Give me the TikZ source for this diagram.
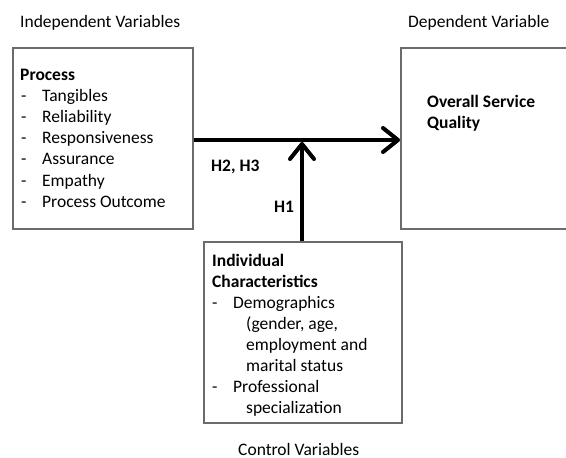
\documentclass[tikz,border=0pt]{standalone}
\usepackage{fontspec}
\setmainfont{Carlito}
\usetikzlibrary{arrows.meta}
\tikzset{
	varbox/.style={draw=black!58, line width=1.5pt, anchor=north west, inner sep=0pt},
	txt/.style={anchor=base west, inner sep=0pt, font=\fontsize{17.5}{21}\selectfont},
	bold/.style={txt, font=\fontsize{17.5}{21}\selectfont\bfseries},
	link/.style={line width=4pt, -{Straight Barb[length=15pt,width=24pt,round]}}
}
\begin{document}
\begin{tikzpicture}[x=1pt,y=-1pt]
		\useasboundingbox (0,0) rectangle (566,458);
		\clip (0,0) rectangle (566,458);
		
		\node[txt] (indep) at (20,27) {Independent Variables};
		\node[txt] (dep) at (408,27) {Dependent Variable};
		
		\node[varbox, minimum width=180pt, minimum height=181pt] (process) at (12,47) {};
		\node[bold] (ptitle) at (20,80) {Process};
		\foreach \t [count=\i] in {Tangibles,Reliability,Responsiveness,Assurance,Empathy,Process Outcome} {
			\node[txt] (dash\i) at (21,80+21.2*\i) {-};
			\node[txt] (item\i) at (42,80+21.2*\i) {\t};
		}
		
		\node[varbox, minimum width=190pt, minimum height=181pt] (overall) at (400,47) {};
		\node[bold] (otitle) at (427,107) {Overall Service};
		\node[bold] (otitle2) at (427,128) {Quality};
		
		\node[varbox, minimum width=198pt, minimum height=181pt] (indiv) at (203,241) {};
		\node[bold] (ititle) at (212,266) {Individual};
		\node[bold] (ititle2) at (212,287) {Characteristics};
		\node[txt] (d1) at (212,308) {-}; \node[txt] (demo) at (233,308) {Demographics};
		\node[txt] (demo2) at (246,329) {(gender, age,};
		\node[txt] (demo3) at (246,350) {employment and};
		\node[txt] (demo4) at (246,371) {marital status};
		\node[txt] (d2) at (212,392) {-}; \node[txt] (prof) at (233,392) {Professional};
		\node[txt] (prof2) at (246,413) {specialization};
		
		\node[txt] (ctrl) at (238,455) {Control Variables};
		
		\coordinate (join) at (302,140);
		\draw[link] (process.east |- join) -- (overall.west |- join);
		\draw[link] (indiv.north -| join) -- ([yshift=-2pt]join);
		
		\node[bold] (h23) at (211,171) {H2, H3};
		\node[bold] (h1) at (274,212) {H1};
\end{tikzpicture}
\end{document}
